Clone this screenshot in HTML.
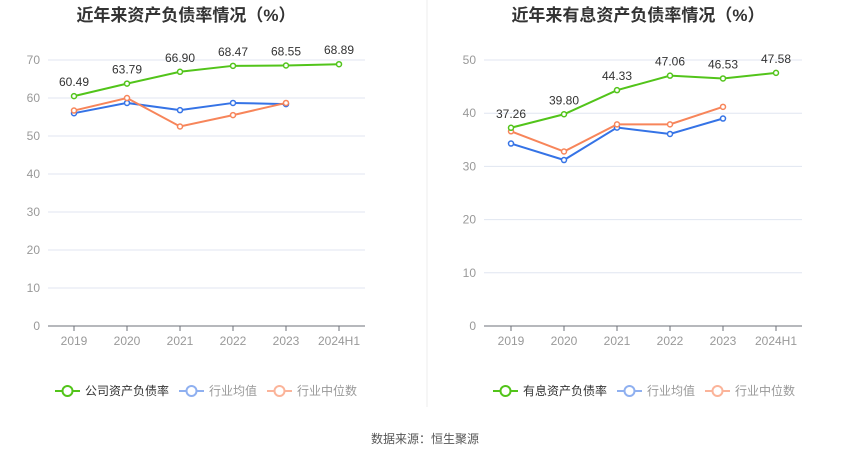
<!DOCTYPE html>
<html><head><meta charset="utf-8">
<style>
body{margin:0;background:#fff;width:850px;height:459px;overflow:hidden;font-family:"Liberation Sans","Noto Sans CJK SC",sans-serif;}
</style></head>
<body>
<svg id="svg" width="850" height="459" xmlns="http://www.w3.org/2000/svg" style="font-family:'Liberation Sans','Noto Sans CJK SC',sans-serif">
<line x1="427" y1="0" x2="427" y2="407" stroke="#eeeeee"/>
<text x="186" y="21" text-anchor="middle" font-size="17" font-weight="bold" fill="#333">近年来资产负债率情况（%）</text>
<text x="638" y="21" text-anchor="middle" font-size="17" font-weight="bold" fill="#333">近年来有息资产负债率情况（%）</text>
<text x="425" y="443" text-anchor="middle" font-size="12" fill="#555">数据来源：恒生聚源</text>
<g id="left"></g><g id="right"></g>
</svg>
<script>
const categories=["2019","2020","2021","2022","2023","2024H1"];
const leftTicks=[0,10,20,30,40,50,60,70];
const leftCompany=[60.49,63.79,66.90,68.47,68.55,68.89];
const leftIndustryAvg=[56.0,58.7,56.8,58.7,58.4];
const leftIndustryMedian=[56.7,60.0,52.5,55.5,58.7];
const rightTicks=[0,10,20,30,40,50];
const rightCompany=[37.26,39.80,44.33,47.06,46.53,47.58];
const rightIndustryAvg=[34.3,31.2,37.3,36.1,39.0];
const rightIndustryMedian=[36.6,32.8,37.9,37.9,41.2];
const NS="http://www.w3.org/2000/svg";
function mk(p,tag,a){const e=document.createElementNS(NS,tag);for(const k in a)e.setAttribute(k,a[k]);p.appendChild(e);return e;}
function draw(g,prefix,x0,x1,firstX,step,ymax,ticks,company,avg,med,legendName,legX){
  const y0=326,yTop=60;
  const Y=v=>y0-(v/ymax)*(y0-yTop);
  const X=i=>firstX+i*step;
  ticks.forEach(t=>{
    if(t>0){const l=mk(g,'line',{x1:x0,x2:x1,y1:Y(t),y2:Y(t),stroke:'#e0e6f1'});
    
    }
    const tx=mk(g,'text',{x:x0-8,y:Y(t)+4,'text-anchor':'end','font-size':12,fill:'#999'});
    tx.textContent=t;
    
    
  });
  const ax=mk(g,'line',{x1:x0,x2:x1,y1:y0,y2:y0,stroke:'#6e7079'});
  
  
  categories.forEach((c,i)=>{
    const tk=mk(g,'line',{x1:X(i),x2:X(i),y1:y0,y2:y0+5,stroke:'#6e7079'});
    
    
    const t=mk(g,'text',{x:X(i),y:y0+19,'text-anchor':'middle','font-size':12,fill:'#999'});
    t.textContent=c;
    
    
  });
  const series=[[avg,'#3573e6','industry-avg'],[med,'#f7855a','industry-median'],[company,'#52c41a','company']];
  series.forEach(([d,col,nm])=>{
    const pl=mk(g,'polyline',{points:d.map((v,i)=>X(i)+','+Y(v)).join(' '),fill:'none',stroke:col,'stroke-width':2});
    
    
    d.forEach((v,i)=>{
      const c=mk(g,'circle',{cx:X(i),cy:Y(v),r:2.5,fill:'#fff',stroke:col,'stroke-width':1.5});
      
      
    });
  });
  company.forEach((v,i)=>{
    const t=mk(g,'text',{x:X(i),y:Y(v)-10,'text-anchor':'middle','font-size':12,fill:'#333'});
    t.textContent=v.toFixed(2);
    
    
  });
  const leg=[[legendName,'#52c41a','#333'],['行业均值','#8fb0f0','#999'],['行业中位数','#fbb49a','#999']];
  let lx=legX;const ly=391;
  leg.forEach(([n,col,tc])=>{
    const lg=mk(g,'g',{});
    
    
    mk(lg,'line',{x1:lx,x2:lx+25,y1:ly,y2:ly,stroke:col,'stroke-width':2});
    mk(lg,'circle',{cx:lx+12.5,cy:ly,r:5,fill:'#fff',stroke:col,'stroke-width':2});
    const t=mk(lg,'text',{x:lx+30,y:ly+4,'font-size':12,fill:tc});
    t.textContent=n;
    lx+=30+n.length*12+10;
  });
}
draw(document.getElementById('left'),'left',48,365,74,53,70,leftTicks,leftCompany,leftIndustryAvg,leftIndustryMedian,'公司资产负债率',55);
draw(document.getElementById('right'),'right',484,802,511,53,50,rightTicks,rightCompany,rightIndustryAvg,rightIndustryMedian,'有息资产负债率',493);
</script>
</body></html>
